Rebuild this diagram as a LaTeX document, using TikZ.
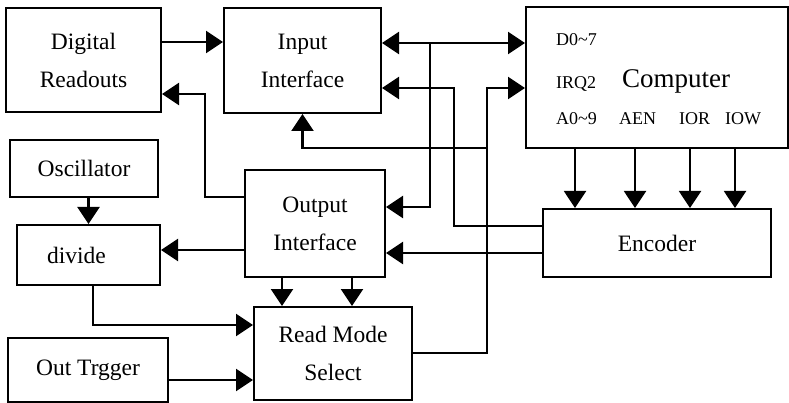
\documentclass[tikz,border=0pt]{standalone}
\usepackage{fontspec}
\setmainfont{Liberation Serif}
\usetikzlibrary{arrows.meta, calc}
\tikzset{
  block/.style={
    draw,
    rectangle,
    line width=2pt,
    inner sep=0pt,
    align=center,
    font=\fontsize{23.5}{38}\selectfont
  },
  link/.style={
    line width=2.4pt,
    -{Triangle[length=17pt, width=22pt]}
  },
  pin/.style={
    anchor=base west,
    inner sep=0pt,
    font=\fontsize{18}{20}\selectfont
  }
}

\begin{document}
\begin{tikzpicture}[x=1pt, y=-1pt]
  \useasboundingbox (0,0) rectangle (789,403);

  % Blocks
  \node[block, minimum width=155, minimum height=104] (dr) at (83.5,60) {Digital\\Readouts};
  \node[block, minimum width=157, minimum height=105] (inp) at (302.5,60.5) {Input\\Interface};
  \node[block, minimum width=262, minimum height=141] (comp) at (657,77.5) {};
  \node[block, minimum width=148, minimum height=57] (osc) at (84,168.5) {Oscillator};
  \node[block, minimum width=143, minimum height=60, text width=83, inner xsep=30, align=left] (div) at (88.5,255) {divide};
  \node[block, minimum width=140, minimum height=107] (outp) at (315,223.5) {Output\\Interface};
  \node[block, minimum width=158, minimum height=93] (rms) at (333,353.5) {\raisebox{-5pt}{Read Mode}\\\raisebox{-5pt}{Select}};
  \node[block, minimum width=160, minimum height=64] (ot) at (88,370) {Out Trgger};
  \node[block, minimum width=228, minimum height=68] (enc) at (657,243) {Encoder};

  % Computer labels
  \node[pin] (d07) at (556,46) {D0\textasciitilde7};
  \node[pin] (irq) at (556,89) {IRQ2};
  \node[pin, font=\fontsize{27}{28}\selectfont] (ctitle) at (622,88) {Computer};
  \node[pin] (a09) at (556,125) {A0\textasciitilde9};
  \node[pin] (aen) at (619,125) {AEN};
  \node[pin] (ior) at (679,125) {IOR};
  \node[pin] (iow) at (725,125) {IOW};

  % Arrows
  \draw[link] (dr.east |- 0,42) -- (inp.west |- 0,42);
  \draw[link] (outp.west |- 0,197) -- (205,197) |- (dr.east |- 0,94);
  \draw[link, {Triangle[length=17pt, width=22pt]}-{Triangle[length=17pt, width=22pt]}] (inp.east |- 0,43) -- (comp.west |- 0,43);
  \draw[link] (430,43) |- (outp.east |- 0,207);
  \draw[link] (enc.west |- 0,226) -| (454,88) -- (inp.east |- 0,88);
  \draw[link] (enc.west |- 0,253) -- (outp.east |- 0,253);
  \draw[link] (rms.east |- 0,353) -| (487,88) -- (comp.west |- 0,88);
  \draw[link] (487,148) -| (inp.south);
  \foreach \px in {575,635,690,735}
    \draw[link, line width=2pt] (comp.south -| \px,0) -- (enc.north -| \px,0);

  \draw[link] (osc.south -| div.north) -- (div.north);
  \draw[link] (outp.west |- 0,250) -- (div.east |- 0,250);
  \foreach \px in {282,352}
    \draw[link] (outp.south -| \px,0) -- (rms.north -| \px,0);
  \draw[link] (div.south -| 93,0) |- (rms.west |- 0,325);
  \draw[link] (ot.east |- 0,380) -- (rms.west |- 0,380);
\end{tikzpicture}
\end{document}
